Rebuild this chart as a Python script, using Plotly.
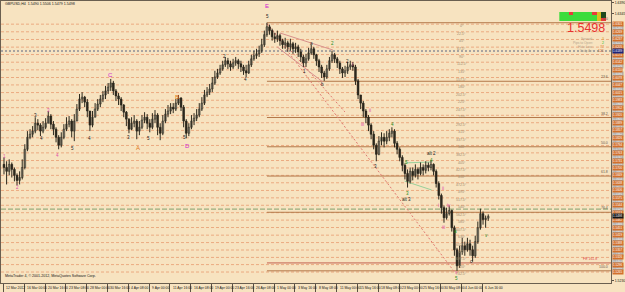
import plotly.graph_objects as go

# ---------------- data ----------------
symbol_title = "GBPUSD,H4  1.5490 1.5506 1.5479 1.5498"
copyright_text = "MetaTrader 4, \u00a9 2001-2012, MetaQuotes Software Corp."

time_labels = ["12 Mar 2012", "16 Mar 00:00", "20 Mar 16:00", "23 Mar 08:00", "28 Mar 00:00",
               "30 Mar 16:00", "4 Apr 08:00", "9 Apr 00:00", "11 Apr 16:00", "16 Apr 08:00",
               "19 Apr 00:00", "23 Apr 16:00", "26 Apr 08:00", "1 May 00:00", "3 May 16:00",
               "8 May 08:00", "11 May 00:00", "15 May 16:00", "18 May 08:00", "23 May 00:00",
               "25 May 16:00", "30 May 08:00", "4 Jun 00:00", "6 Jun 16:00"]
bars_per_label = 16      # H4 bars between two time labels
bars_per_candle = 2      # each drawn candle groups two H4 bars

opens = [1.5715, 1.5702, 1.5686, 1.5715, 1.5694, 1.5669, 1.5648, 1.5660, 1.5702, 1.5778,
         1.5828, 1.5841, 1.5854, 1.5887, 1.5879, 1.5854, 1.5870, 1.5887, 1.5917, 1.5883,
         1.5862, 1.5828, 1.5795, 1.5828, 1.5862, 1.5883, 1.5896, 1.5854, 1.5896, 1.5946,
         1.5988, 1.5996, 1.5975, 1.5938, 1.5879, 1.5912, 1.5946, 1.5967, 1.5988, 1.6005,
         1.6022, 1.6038, 1.6055, 1.6022, 1.6001, 1.5988, 1.5963, 1.5933, 1.5904, 1.5862,
         1.5887, 1.5896, 1.5854, 1.5870, 1.5900, 1.5912, 1.5887, 1.5870, 1.5904, 1.5921,
         1.5870, 1.5845, 1.5896, 1.5925, 1.5938, 1.5954, 1.5946, 1.5971, 1.5992, 1.5954,
         1.5896, 1.5845, 1.5870, 1.5896, 1.5908, 1.5921, 1.5946, 1.5971, 1.6005, 1.6017,
         1.6030, 1.6055, 1.6080, 1.6097, 1.6114, 1.6131, 1.6148, 1.6135, 1.6122, 1.6139,
         1.6148, 1.6135, 1.6122, 1.6106, 1.6097, 1.6131, 1.6156, 1.6169, 1.6177, 1.6190,
         1.6215, 1.6257, 1.6290, 1.6274, 1.6248, 1.6240, 1.6253, 1.6232, 1.6215, 1.6223,
         1.6206, 1.6219, 1.6198, 1.6206, 1.6185, 1.6164, 1.6139, 1.6156, 1.6181, 1.6198,
         1.6173, 1.6148, 1.6122, 1.6097, 1.6080, 1.6114, 1.6148, 1.6173, 1.6156, 1.6139,
         1.6114, 1.6097, 1.6106, 1.6122, 1.6131, 1.6122, 1.6064, 1.6005, 1.5971, 1.5938,
         1.5912, 1.5879, 1.5841, 1.5795, 1.5757, 1.5812, 1.5828, 1.5812, 1.5828, 1.5845,
         1.5854, 1.5803, 1.5778, 1.5744, 1.5711, 1.5677, 1.5644, 1.5686, 1.5669, 1.5694,
         1.5677, 1.5702, 1.5690, 1.5711, 1.5702, 1.5715, 1.5686, 1.5635, 1.5585, 1.5534,
         1.5492, 1.5509, 1.5522, 1.5450, 1.5358, 1.5291, 1.5350, 1.5375, 1.5358, 1.5383,
         1.5358, 1.5333, 1.5392, 1.5450, 1.5509, 1.5484, 1.5490]
highs = [1.5744, 1.5728, 1.5736, 1.5723, 1.5702, 1.5677, 1.5686, 1.5736, 1.5799, 1.5854,
         1.5862, 1.5875, 1.5912, 1.5904, 1.5887, 1.5896, 1.5908, 1.5938, 1.5925, 1.5896,
         1.5870, 1.5837, 1.5849, 1.5883, 1.5912, 1.5917, 1.5904, 1.5925, 1.5967, 1.6009,
         1.6017, 1.6001, 1.5988, 1.5938, 1.5938, 1.5971, 1.5988, 1.6005, 1.6022, 1.6043,
         1.6055, 1.6072, 1.6064, 1.6030, 1.6013, 1.5996, 1.5967, 1.5938, 1.5908, 1.5912,
         1.5921, 1.5904, 1.5896, 1.5921, 1.5933, 1.5925, 1.5904, 1.5929, 1.5942, 1.5929,
         1.5887, 1.5921, 1.5946, 1.5963, 1.5971, 1.5971, 1.5988, 1.6005, 1.5996, 1.5963,
         1.5904, 1.5887, 1.5921, 1.5929, 1.5946, 1.5971, 1.5996, 1.6026, 1.6038, 1.6051,
         1.6080, 1.6106, 1.6114, 1.6131, 1.6148, 1.6164, 1.6160, 1.6148, 1.6156, 1.6164,
         1.6156, 1.6148, 1.6131, 1.6131, 1.6148, 1.6173, 1.6190, 1.6198, 1.6211, 1.6240,
         1.6274, 1.6307, 1.6299, 1.6282, 1.6265, 1.6274, 1.6261, 1.6240, 1.6244, 1.6232,
         1.6240, 1.6227, 1.6223, 1.6215, 1.6198, 1.6173, 1.6177, 1.6202, 1.6215, 1.6206,
         1.6177, 1.6156, 1.6131, 1.6106, 1.6131, 1.6164, 1.6190, 1.6181, 1.6164, 1.6148,
         1.6122, 1.6127, 1.6143, 1.6148, 1.6143, 1.6131, 1.6072, 1.6005, 1.5980, 1.5946,
         1.5921, 1.5887, 1.5854, 1.5803, 1.5833, 1.5849, 1.5845, 1.5854, 1.5862, 1.5870,
         1.5862, 1.5812, 1.5786, 1.5753, 1.5719, 1.5694, 1.5702, 1.5702, 1.5715, 1.5702,
         1.5723, 1.5715, 1.5728, 1.5723, 1.5732, 1.5719, 1.5694, 1.5644, 1.5593, 1.5543,
         1.5534, 1.5543, 1.5526, 1.5459, 1.5366, 1.5375, 1.5408, 1.5392, 1.5408, 1.5400,
         1.5375, 1.5417, 1.5476, 1.5530, 1.5518, 1.5501, 1.5506]
lows = [1.5673, 1.5631, 1.5669, 1.5660, 1.5644, 1.5627, 1.5631, 1.5652, 1.5694, 1.5770,
        1.5820, 1.5828, 1.5845, 1.5858, 1.5833, 1.5845, 1.5862, 1.5887, 1.5862, 1.5837,
        1.5807, 1.5778, 1.5786, 1.5820, 1.5854, 1.5870, 1.5828, 1.5812, 1.5896, 1.5938,
        1.5971, 1.5954, 1.5912, 1.5854, 1.5870, 1.5912, 1.5938, 1.5954, 1.5975, 1.5988,
        1.6009, 1.6022, 1.6005, 1.5980, 1.5963, 1.5938, 1.5912, 1.5875, 1.5845, 1.5858,
        1.5870, 1.5820, 1.5837, 1.5862, 1.5887, 1.5862, 1.5849, 1.5862, 1.5887, 1.5837,
        1.5816, 1.5837, 1.5887, 1.5912, 1.5925, 1.5929, 1.5938, 1.5963, 1.5938, 1.5870,
        1.5824, 1.5833, 1.5862, 1.5879, 1.5896, 1.5912, 1.5938, 1.5963, 1.5996, 1.6005,
        1.6017, 1.6047, 1.6072, 1.6089, 1.6106, 1.6122, 1.6114, 1.6106, 1.6114, 1.6127,
        1.6114, 1.6101, 1.6089, 1.6080, 1.6093, 1.6122, 1.6148, 1.6156, 1.6164, 1.6181,
        1.6206, 1.6248, 1.6257, 1.6232, 1.6223, 1.6227, 1.6211, 1.6198, 1.6198, 1.6185,
        1.6190, 1.6177, 1.6181, 1.6164, 1.6143, 1.6122, 1.6122, 1.6148, 1.6173, 1.6156,
        1.6127, 1.6101, 1.6076, 1.6064, 1.6072, 1.6106, 1.6139, 1.6139, 1.6118, 1.6093,
        1.6076, 1.6080, 1.6093, 1.6110, 1.6106, 1.6047, 1.5988, 1.5946, 1.5912, 1.5887,
        1.5854, 1.5820, 1.5778, 1.5728, 1.5753, 1.5795, 1.5786, 1.5799, 1.5812, 1.5828,
        1.5786, 1.5757, 1.5728, 1.5686, 1.5652, 1.5618, 1.5635, 1.5648, 1.5660, 1.5652,
        1.5669, 1.5669, 1.5677, 1.5686, 1.5690, 1.5669, 1.5618, 1.5568, 1.5509, 1.5471,
        1.5484, 1.5501, 1.5434, 1.5333, 1.5270, 1.5282, 1.5337, 1.5333, 1.5350, 1.5333,
        1.5308, 1.5324, 1.5383, 1.5442, 1.5463, 1.5450, 1.5479]
closes = [1.5702, 1.5686, 1.5715, 1.5694, 1.5669, 1.5648, 1.5660, 1.5702, 1.5778, 1.5828,
          1.5841, 1.5854, 1.5887, 1.5879, 1.5854, 1.5870, 1.5887, 1.5917, 1.5883, 1.5862,
          1.5828, 1.5795, 1.5828, 1.5862, 1.5883, 1.5896, 1.5854, 1.5896, 1.5946, 1.5988,
          1.5996, 1.5975, 1.5938, 1.5879, 1.5912, 1.5946, 1.5967, 1.5988, 1.6005, 1.6022,
          1.6038, 1.6055, 1.6022, 1.6001, 1.5988, 1.5963, 1.5933, 1.5904, 1.5862, 1.5887,
          1.5896, 1.5854, 1.5870, 1.5900, 1.5912, 1.5887, 1.5870, 1.5904, 1.5921, 1.5870,
          1.5845, 1.5896, 1.5925, 1.5938, 1.5954, 1.5946, 1.5971, 1.5992, 1.5954, 1.5896,
          1.5845, 1.5870, 1.5896, 1.5908, 1.5921, 1.5946, 1.5971, 1.6005, 1.6017, 1.6030,
          1.6055, 1.6080, 1.6097, 1.6114, 1.6131, 1.6148, 1.6135, 1.6122, 1.6139, 1.6148,
          1.6135, 1.6122, 1.6106, 1.6097, 1.6131, 1.6156, 1.6169, 1.6177, 1.6190, 1.6215,
          1.6257, 1.6290, 1.6274, 1.6248, 1.6240, 1.6253, 1.6232, 1.6215, 1.6223, 1.6206,
          1.6219, 1.6198, 1.6206, 1.6185, 1.6164, 1.6139, 1.6156, 1.6181, 1.6198, 1.6173,
          1.6148, 1.6122, 1.6097, 1.6080, 1.6114, 1.6148, 1.6173, 1.6156, 1.6139, 1.6114,
          1.6097, 1.6106, 1.6122, 1.6131, 1.6122, 1.6064, 1.6005, 1.5971, 1.5938, 1.5912,
          1.5879, 1.5841, 1.5795, 1.5757, 1.5812, 1.5828, 1.5812, 1.5828, 1.5845, 1.5854,
          1.5803, 1.5778, 1.5744, 1.5711, 1.5677, 1.5644, 1.5686, 1.5669, 1.5694, 1.5677,
          1.5702, 1.5690, 1.5711, 1.5702, 1.5715, 1.5686, 1.5635, 1.5585, 1.5534, 1.5492,
          1.5509, 1.5522, 1.5450, 1.5358, 1.5291, 1.5350, 1.5375, 1.5358, 1.5383, 1.5358,
          1.5333, 1.5392, 1.5450, 1.5509, 1.5484, 1.5490, 1.5498]

# Gann square-of-nine levels from the 1.6301 top
gann_degrees = ["0\u00b0", "22.5\u00b0", "45\u00b0", "67.5\u00b0", "90\u00b0", "112.5\u00b0", "135\u00b0",
                "157.5\u00b0", "180\u00b0", "202.5\u00b0", "225\u00b0", "247.5\u00b0", "270\u00b0",
                "292.5\u00b0", "315\u00b0", "337.5\u00b0", "360\u00b0", "382.5\u00b0", "405\u00b0",
                "427.5\u00b0", "450\u00b0", "472.5\u00b0", "495\u00b0", "517.5\u00b0", "540\u00b0",
                "562.5\u00b0", "585\u00b0", "607.5\u00b0", "630\u00b0", "652.5\u00b0", "675\u00b0",
                "697.5\u00b0", "720\u00b0", "742.5\u00b0"]
gann_prices = [1.6301, 1.6269, 1.6237, 1.6205, 1.6174, 1.6142, 1.6110, 1.6078, 1.6047, 1.6015,
               1.5983, 1.5952, 1.5920, 1.5889, 1.5857, 1.5826, 1.5794, 1.5763, 1.5731, 1.5700,
               1.5669, 1.5638, 1.5606, 1.5575, 1.5544, 1.5513, 1.5482, 1.5451, 1.5419, 1.5388,
               1.5357, 1.5326, 1.5296, 1.5265]
gann_half_prices = [1.6285, 1.6253, 1.6221, 1.6190, 1.6158, 1.6126, 1.6094, 1.6063, 1.6031, 1.5999,
                    1.5968, 1.5936, 1.5905, 1.5873, 1.5842, 1.5810, 1.5779, 1.5747, 1.5716, 1.5685,
                    1.5654, 1.5622, 1.5591, 1.5560, 1.5529, 1.5497, 1.5466, 1.5435, 1.5404, 1.5373,
                    1.5342, 1.5311, 1.5280]
gann_label_bar = 352

fib_levels = [0.0, 23.6, 38.2, 50.0, 61.8, 76.4, 100.0]
fe_label = "FE 161.8"
fe_price = 1.5303
green_level = 1.5528
gray_level = 1.6189
price_ticks = [1.6390, 1.6345, 1.5230]

# wave count labels: text, bar position, price, colour key
wave_text = ["E", "5", "C", "B", "A", "D", "1", "2", "3", "4", "3", "4", "5", "4", "3", "5", "5",
             "2", "4", "1", "a", "b", "2", "2", "i", "ii", "iii", "3", "4", "alt 2", "4", "5", "3",
             "alt 3", "ii", "i", "iv", "iii", "v", "5", "a", "c", "v"]
wave_bar = [202.6, 202.6, 82.4, 133.7, 103.1, 141.4, 0.8, 11.2, 35.0, 41.8, 25.0, 29.6, 53.3, 66.3,
            96.2, 111.5, 139.1, 169.7, 185.8, 231.7, 237.1, 245.5, 253.2, 264.7, 268.5, 281.5,
            276.2, 286.1, 299.1, 328.9, 328.9, 309.8, 310.6, 309.8, 337.4, 334.3, 342.0, 338.2,
            348.1, 348.1, 347.5, 359.6, 371.1]
wave_price = [1.6377, 1.6335, 1.6088, 1.5997, 1.5783, 1.5792, 1.5746, 1.5620, 1.5942, 1.5750,
              1.5921, 1.5825, 1.5783, 1.5825, 1.5829, 1.5825, 1.5829, 1.6164, 1.6068, 1.6105,
              1.6222, 1.6047, 1.6222, 1.6143, 1.6134, 1.5942, 1.5880, 1.5704, 1.5880, 1.5762,
              1.5733, 1.5721, 1.5595, 1.5570, 1.5616, 1.5541, 1.5541, 1.5453, 1.5261, 1.5236,
              1.5435, 1.5307, 1.5416]
wave_kind = ["m", "k", "m", "o", "o", "m", "p", "p", "p", "p", "k", "k", "k", "k", "k", "k", "k",
             "k", "k", "k", "k", "k", "g", "k", "p", "p", "p", "k", "g", "k", "g", "g", "g",
             "k", "p", "p", "p", "p", "p", "g", "g", "k", "g"]

# drawn trend lines: start bar/price, end bar/price, kind
tl_bar0 = [202.6, 202.6, 212.6, 210.3, 308.3, 308.3]
tl_price0 = [1.6302, 1.6302, 1.6264, 1.6206, 1.5721, 1.5645]
tl_bar1 = [346.6, 262.4, 253.2, 245.5, 329.0, 329.0]
tl_price1 = [1.5265, 1.5934, 1.6193, 1.6059, 1.5725, 1.5608]
tl_kind = ["dot", "dot", "solid", "solid", "green", "green"]

# info panel
panel_z = [[0, 0, 1, 0, 0, 0, 0, 1, 2, 3],
           [0, 0, 0, 0, 0, 0, 0, 0, 2, 3],
           [0, 0, 0, 0, 0, 0, 0, 0, 2, 1]]
bid_text = "1.5498"
info_labels = ["Spread:", "Pips to Open:", "Hi to Low:", "Daily Av:"]
info_values = ["3", "2", "77", "121"]
info_value_colors = ["#E0A020", "#20C020", "#E08020", "#D85A20"]

# ---------------- figure ----------------
FONT = "Liberation Sans, Arial, sans-serif"
BG = "#F7E3C0"
W, H = 625, 292
ML, MR, MT, MB = 0, 13, 1, 9
PW, PH = W - ML - MR, H - MT - MB
Y_RANGE = [1.52191, 1.63978]
X_RANGE = [-1.8, 466.8]


def px(x):
    return (x - ML) / PW


def py(y):
    return 1 - (y - MT) / PH


n = len(closes)
xs = [bars_per_candle * i + 0.5 for i in range(n)]

wick_x, wick_y = [], []
for x, h, l in zip(xs, highs, lows):
    wick_x += [x, x, None]
    wick_y += [l, h, None]

up_x, up_b, up_h, dn_x, dn_b, dn_h = [], [], [], [], [], []
for x, o, c in zip(xs, opens, closes):
    hgt = max(abs(c - o), 0.00012)
    if c >= o:
        up_x.append(x); up_b.append(min(o, c)); up_h.append(hgt)
    else:
        dn_x.append(x); dn_b.append(min(o, c)); dn_h.append(hgt)

fig = go.Figure()
fig.add_trace(go.Scatter(x=wick_x, y=wick_y, mode="lines",
                         line=dict(color="#2E2A1E", width=1), hoverinfo="skip"))
fig.add_trace(go.Bar(x=up_x, y=up_h, base=up_b, width=1.3,
                     marker=dict(color="#ECE8D8", line=dict(color="#2E2A1E", width=0.6))))
fig.add_trace(go.Bar(x=dn_x, y=dn_h, base=dn_b, width=1.3,
                     marker=dict(color="#1C1A12", line=dict(color="#1C1A12", width=0.6))))

# info panel heatmap
fig.add_trace(go.Heatmap(z=panel_z, xaxis="x2", yaxis="y2", showscale=False, zmin=0, zmax=3,
                         colorscale=[[0, "#3CDC3C"], [0.25, "#3CDC3C"], [0.25, "#E83A3A"],
                                     [0.5, "#E83A3A"], [0.5, "#D8C020"], [0.75, "#D8C020"],
                                     [0.75, "#1E4A1E"], [1, "#1E4A1E"]], hoverinfo="skip"))

shapes = []
# Gann dotted levels
for p in gann_prices:
    shapes.append(dict(type="line", xref="paper", yref="y", x0=0, x1=1, y0=p, y1=p,
                       line=dict(color="#EBAA80", width=1, dash="3px,2px"), layer="below"))
# grey double dotted level
shapes.append(dict(type="line", xref="paper", yref="y", x0=0, x1=1, y0=gray_level, y1=gray_level,
                   line=dict(color="#A8A4A0", width=2, dash="2px,2px"), layer="below"))
# green dashed level
shapes.append(dict(type="line", xref="paper", yref="y", x0=0, x1=1, y0=green_level, y1=green_level,
                   line=dict(color="#82A06E", width=1, dash="5px,2px"), layer="below"))
# Fibonacci retracement from the top
e_idx = highs.index(max(highs))
fib_hi, fib_lo = max(highs), min(lows)
fib_x0 = xs[e_idx]
annotations = []
for lv in fib_levels:
    p = fib_hi - (fib_hi - fib_lo) * lv / 100.0
    shapes.append(dict(type="line", xref="x", yref="y", x0=fib_x0, x1=X_RANGE[1], y0=p, y1=p,
                       line=dict(color="#B4784A", width=1), layer="below"))
    annotations.append(dict(x=px(611), xref="paper", y=p, yref="y", text="%.1f" % lv,
                            showarrow=False, xanchor="right", yanchor="bottom",
                            font=dict(size=3.5, color="#6A5A48", family=FONT)))
shapes.append(dict(type="line", xref="x", yref="y", x0=fib_x0, x1=X_RANGE[1], y0=fe_price, y1=fe_price,
                   line=dict(color="#C2604E", width=1), layer="below"))
annotations.append(dict(x=px(600), xref="paper", y=fe_price, yref="y", text=fe_label,
                        showarrow=False, xanchor="right", yanchor="bottom",
                        font=dict(size=3.5, color="#E04848", family=FONT)))
# trend lines
tl_style = {"dot": dict(color="#E07A72", width=1, dash="2px,2px"),
            "solid": dict(color="#D8908C", width=1),
            "green": dict(color="#9AD09A", width=1)}
for b0, p0, b1, p1, k in zip(tl_bar0, tl_price0, tl_bar1, tl_price1, tl_kind):
    shapes.append(dict(type="line", xref="x", yref="y", x0=b0, y0=p0, x1=b1, y1=p1,
                       line=tl_style[k], layer="below"))

# Gann degree labels
for d, p in zip(gann_degrees, gann_prices):
    annotations.append(dict(x=gann_label_bar, y=p, xref="x", yref="y", text=d, showarrow=False,
                            yshift=-2, font=dict(size=3.5, color="#9E8A6C", family=FONT)))

# right-axis level boxes
for p in gann_half_prices:
    annotations.append(dict(x=1, xref="paper", y=p, yref="y", text="%.4f" % p, showarrow=False,
                            xanchor="left", xshift=1, bgcolor="#A9A7A4", borderpad=0,
                            font=dict(size=3, color="#FFFFFF", family=FONT)))
for p in gann_prices:
    annotations.append(dict(x=1, xref="paper", y=p, yref="y", text="%.4f" % p, showarrow=False,
                            xanchor="left", xshift=1, bgcolor="#D2702C", borderpad=0,
                            font=dict(size=3, color="#FFFFFF", family=FONT)))
annotations.append(dict(x=1, xref="paper", y=gray_level, yref="y", text="%.4f" % gray_level,
                        showarrow=False, xanchor="left", xshift=1, bgcolor="#1C2478", borderpad=0,
                        font=dict(size=3, color="#FFFFFF", family=FONT)))
annotations.append(dict(x=1, xref="paper", y=closes[-1], yref="y", text="%.4f" % closes[-1],
                        showarrow=False, xanchor="left", xshift=1, bgcolor="#141414", borderpad=0,
                        font=dict(size=3, color="#FFFFFF", family=FONT)))

# wave labels
wave_colors = {"m": "#D020D0", "o": "#E07818", "p": "#E050A8", "k": "#1A1A1A", "g": "#1A8A1A"}
for t, b, p, k in zip(wave_text, wave_bar, wave_price, wave_kind):
    big = k in ("m", "o")
    annotations.append(dict(x=b, y=p, xref="x", yref="y", text=t, showarrow=False,
                            font=dict(size=6 if big else 4.5, color=wave_colors[k], family=FONT)))

# time labels (drawn right of each tick, as in the terminal)
for k, lab in enumerate(time_labels):
    annotations.append(dict(x=k * bars_per_label, xref="x", y=0, yref="paper", text=lab,
                            showarrow=False, xanchor="left", yanchor="top", xshift=1, yshift=-1,
                            font=dict(size=3.4, color="#141414", family=FONT)))

# header / footer text
annotations.append(dict(x=px(2), y=py(4), xref="paper", yref="paper", text=symbol_title,
                        showarrow=False, xanchor="left", yanchor="middle",
                        font=dict(size=3.6, color="#141414", family=FONT)))
annotations.append(dict(x=px(2), y=py(276), xref="paper", yref="paper", text=copyright_text,
                        showarrow=False, xanchor="left", yanchor="middle",
                        font=dict(size=3.6, color="#141414", family=FONT)))
annotations.append(dict(x=px(608), y=py(28.3), xref="paper", yref="paper", text=bid_text,
                        showarrow=False, xanchor="right", yanchor="middle",
                        font=dict(size=12.5, color="#E8312F", family=FONT)))
for j, (lab, val, col) in enumerate(zip(info_labels, info_values, info_value_colors)):
    yy = py(38.6 + 4.2 * j)
    annotations.append(dict(x=px(596), y=yy, xref="paper", yref="paper", text=lab, showarrow=False,
                            xanchor="right", yanchor="middle",
                            font=dict(size=3.3, color="#B4A48C", family=FONT)))
    annotations.append(dict(x=px(607), y=yy, xref="paper", yref="paper", text=val, showarrow=False,
                            xanchor="right", yanchor="middle",
                            font=dict(size=3.5, color=col, family=FONT)))

fig.update_layout(
    width=W, height=H, margin=dict(l=ML, r=MR, t=MT, b=MB),
    paper_bgcolor=BG, plot_bgcolor=BG, showlegend=False, barmode="overlay",
    font=dict(family=FONT, size=4, color="#141414"),
    shapes=shapes, annotations=annotations,
    xaxis=dict(range=X_RANGE, showgrid=False, zeroline=False, showticklabels=False,
               tickvals=[k * bars_per_label for k in range(len(time_labels))],
               ticks="outside", ticklen=8, tickcolor="#5A5044", tickwidth=1,
               showline=True, linecolor="#6A5F50", linewidth=1, mirror=True),
    yaxis=dict(range=Y_RANGE, side="right", showgrid=False, zeroline=False,
               tickvals=price_ticks, tickformat=".4f", ticks="outside", ticklen=2,
               tickcolor="#5A5044", tickfont=dict(size=3.5, color="#141414", family=FONT),
               showline=True, linecolor="#6A5F50", linewidth=1, mirror=True),
    xaxis2=dict(domain=[px(560), px(607)], anchor="y2", visible=False, showgrid=False),
    yaxis2=dict(domain=[py(21), py(12)], anchor="x2", visible=False, showgrid=False,
                autorange="reversed"),
)

fig.write_html("out.html")
